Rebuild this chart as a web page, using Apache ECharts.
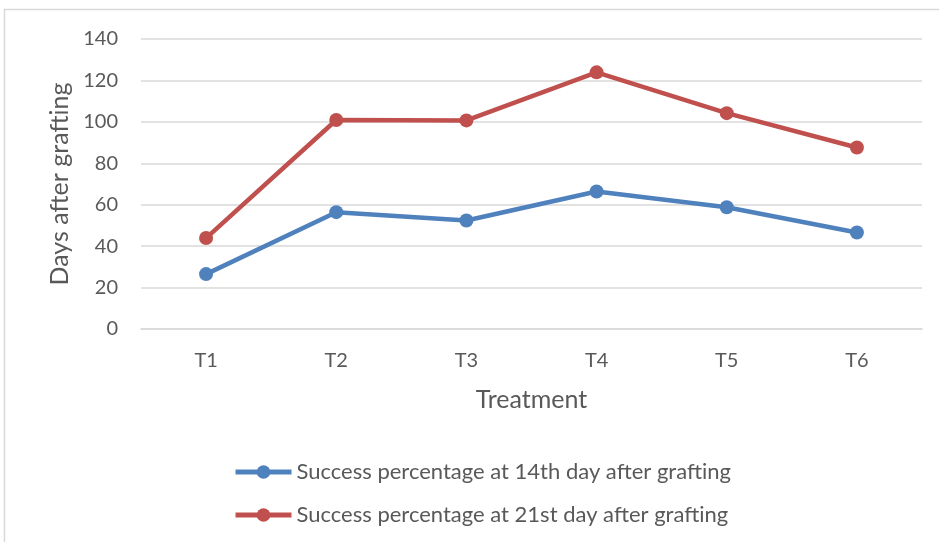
<!DOCTYPE html>
<html>
<head>
<meta charset="utf-8">
<script src="https://cdn.jsdelivr.net/npm/echarts@6/dist/echarts.min.js"></script>
<style>
  html, body { margin: 0; padding: 0; background: #fff; }
  #chart { width: 939px; height: 542px; }
</style>
</head>
<body>
<div id="chart"></div>
<script>
var treatments = ["T1", "T2", "T3", "T4", "T5", "T6"];
var day14 = [26.5, 56.4, 52.4, 66.4, 58.8, 46.6];
var day21 = [43.9, 100.9, 100.7, 123.9, 104.2, 87.6];
var seriesNames = [
  "Success percentage at 14th day after grafting",
  "Success percentage at 21st day after grafting"
];

var chart = echarts.init(document.getElementById("chart"));
var font = "Lato, 'Open Sans', sans-serif";
var textColor = "#595959";

var option = {
  backgroundColor: "#fff",
  animation: false,
  textStyle: { fontFamily: font },
  graphic: [
    {
      type: "rect",
      shape: { x: 4.5, y: 9.5, width: 1000, height: 600 },
      style: { fill: "none", stroke: "#d9d9d9", lineWidth: 1.5 },
      silent: true
    }
  ],
  grid: { left: 141, right: 17, top: 39, bottom: 213 },
  legend: {
    orient: "vertical",
    left: 228,
    top: 456,
    itemWidth: 56,
    itemHeight: 17,
    itemGap: 21,
    lineStyle: { width: 5 },
    textStyle: { color: textColor, fontSize: 22, fontFamily: font },
    data: seriesNames
  },
  xAxis: {
    type: "category",
    data: treatments,
    name: "Treatment",
    nameLocation: "middle",
    nameGap: 58,
    nameTextStyle: { color: textColor, fontSize: 25, fontFamily: font },
    axisLine: { lineStyle: { color: "#d9d9d9", width: 1.5 } },
    axisTick: { show: false },
    axisLabel: { color: textColor, fontSize: 20, margin: 22, fontFamily: font }
  },
  yAxis: {
    type: "value",
    min: 0,
    max: 140,
    interval: 20,
    name: "Days after grafting",
    nameLocation: "middle",
    nameGap: 68,
    nameTextStyle: { color: textColor, fontSize: 25, fontFamily: font },
    axisLine: { show: false },
    axisTick: { show: false },
    axisLabel: { color: textColor, fontSize: 20, margin: 23, fontFamily: font },
    splitLine: { lineStyle: { color: "#d9d9d9", width: 1.5 } }
  },
  series: [
    {
      name: seriesNames[0],
      type: "line",
      data: day14,
      symbol: "circle",
      symbolSize: 14,
      itemStyle: { color: "#4f81bd" },
      lineStyle: { color: "#4f81bd", width: 4.5 }
    },
    {
      name: seriesNames[1],
      type: "line",
      data: day21,
      symbol: "circle",
      symbolSize: 14,
      itemStyle: { color: "#c0504d" },
      lineStyle: { color: "#c0504d", width: 4.5 }
    }
  ]
};

chart.setOption(option);
</script>
</body>
</html>
